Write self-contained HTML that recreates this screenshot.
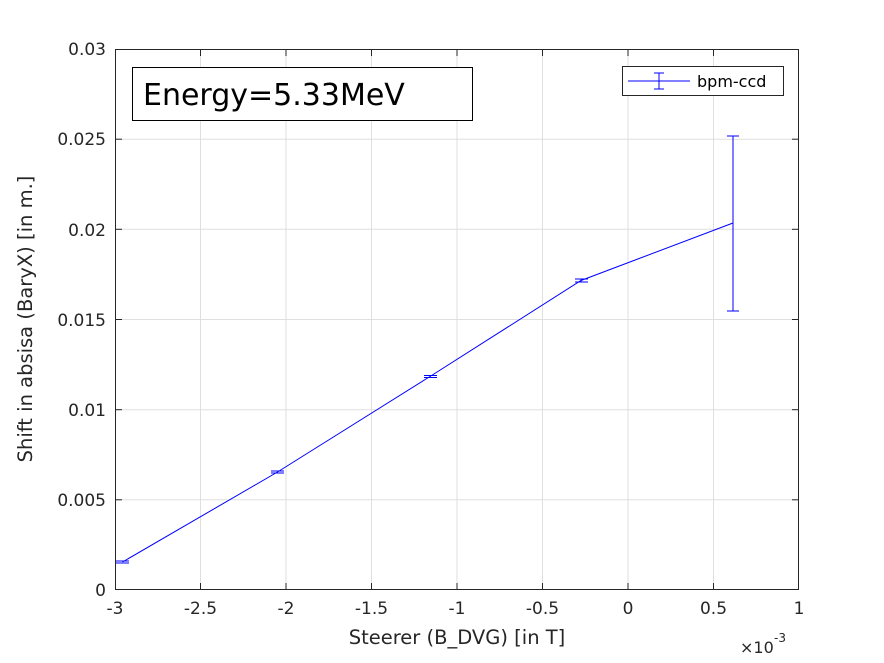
<!DOCTYPE html>
<html><head><style>body{margin:0;background:#fff}svg{display:block}text{font-family:"DejaVu Sans","Liberation Sans",sans-serif;fill:#262626}</style></head><body>
<svg width="884" height="663" xmlns="http://www.w3.org/2000/svg">
<rect width="884" height="663" fill="#fff"/>
<rect x="115" y="49" width="684" height="541" fill="#fff"/>
<g stroke="#dfdfdf" stroke-width="1">
<line x1="200.5" y1="49" x2="200.5" y2="590"/><line x1="286" y1="49" x2="286" y2="590"/><line x1="371.5" y1="49" x2="371.5" y2="590"/><line x1="457" y1="49" x2="457" y2="590"/><line x1="542.5" y1="49" x2="542.5" y2="590"/><line x1="628" y1="49" x2="628" y2="590"/><line x1="713.5" y1="49" x2="713.5" y2="590"/>
<line x1="115" y1="139.2" x2="799" y2="139.2"/><line x1="115" y1="229.3" x2="799" y2="229.3"/><line x1="115" y1="319.5" x2="799" y2="319.5"/><line x1="115" y1="409.7" x2="799" y2="409.7"/><line x1="115" y1="499.8" x2="799" y2="499.8"/>
</g>
<rect x="115.5" y="49.5" width="683" height="540" fill="none" stroke="#262626" stroke-width="1"/>
<g stroke="#262626">
<line x1="200.5" y1="590" x2="200.5" y2="583"/><line x1="286" y1="590" x2="286" y2="583"/><line x1="371.5" y1="590" x2="371.5" y2="583"/><line x1="457" y1="590" x2="457" y2="583"/><line x1="542.5" y1="590" x2="542.5" y2="583"/><line x1="628" y1="590" x2="628" y2="583"/><line x1="713.5" y1="590" x2="713.5" y2="583"/>
<line x1="200.5" y1="49" x2="200.5" y2="56"/><line x1="286" y1="49" x2="286" y2="56"/><line x1="371.5" y1="49" x2="371.5" y2="56"/><line x1="457" y1="49" x2="457" y2="56"/><line x1="542.5" y1="49" x2="542.5" y2="56"/><line x1="628" y1="49" x2="628" y2="56"/><line x1="713.5" y1="49" x2="713.5" y2="56"/>
<line x1="115" y1="139.2" x2="122" y2="139.2"/><line x1="115" y1="229.3" x2="122" y2="229.3"/><line x1="115" y1="319.5" x2="122" y2="319.5"/><line x1="115" y1="409.7" x2="122" y2="409.7"/><line x1="115" y1="499.8" x2="122" y2="499.8"/>
<line x1="799" y1="139.2" x2="792" y2="139.2"/><line x1="799" y1="229.3" x2="792" y2="229.3"/><line x1="799" y1="319.5" x2="792" y2="319.5"/><line x1="799" y1="409.7" x2="792" y2="409.7"/><line x1="799" y1="499.8" x2="792" y2="499.8"/>
</g>
<g font-size="17" text-anchor="middle">
<text x="115" y="614">-3</text><text x="200.5" y="614">-2.5</text><text x="286" y="614">-2</text><text x="371.5" y="614">-1.5</text><text x="457" y="614">-1</text><text x="542.5" y="614">-0.5</text><text x="628" y="614">0</text><text x="713.5" y="614">0.5</text><text x="799" y="614">1</text>
</g>
<g font-size="17" text-anchor="end">
<text x="106" y="596">0</text><text x="106" y="506">0.005</text><text x="106" y="416">0.01</text><text x="106" y="326">0.015</text><text x="106" y="236">0.02</text><text x="106" y="145">0.025</text><text x="106" y="55">0.03</text>
</g>
<text x="740" y="653" font-size="16">×10</text><text x="774" y="642" font-size="12">-3</text>
<text x="457" y="644" font-size="19.5" text-anchor="middle">Steerer (B_DVG) [in T]</text>
<text transform="translate(32,319) rotate(-90)" font-size="19.5" text-anchor="middle">Shift in absisa (BaryX) [in m.]</text>
<g stroke="#0000ff" stroke-width="1" fill="none">
<polyline points="122.5,562 277.5,472 430,376.5 581,280.5 733,223"/>
<line x1="116" y1="561" x2="129" y2="561"/><line x1="116" y1="563" x2="129" y2="563"/>
<line x1="271" y1="471" x2="284" y2="471"/><line x1="271" y1="473" x2="284" y2="473"/>
<line x1="424" y1="375.5" x2="437" y2="375.5"/><line x1="424" y1="377.5" x2="437" y2="377.5"/>
<line x1="575" y1="279" x2="588" y2="279"/><line x1="575" y1="282" x2="588" y2="282"/><line x1="581" y1="279" x2="581" y2="282"/>
<line x1="733" y1="136" x2="733" y2="311"/><line x1="727" y1="136" x2="739" y2="136"/><line x1="727" y1="311" x2="739" y2="311"/>
</g>
<rect x="132.5" y="67.5" width="340" height="53" fill="#fff" stroke="#000"/>
<text x="143" y="105" font-size="30" style="fill:#000">Energy=5.33MeV</text>
<rect x="622.5" y="66.5" width="161" height="29" fill="#fff" stroke="#262626"/>
<g stroke="#0000ff"><line x1="628" y1="81" x2="690" y2="81"/><line x1="659" y1="73" x2="659" y2="89"/><line x1="654" y1="73" x2="664" y2="73"/><line x1="654" y1="89" x2="664" y2="89"/></g>
<text x="697" y="87" font-size="16" style="fill:#000">bpm-ccd</text>
</svg>
</body></html>
